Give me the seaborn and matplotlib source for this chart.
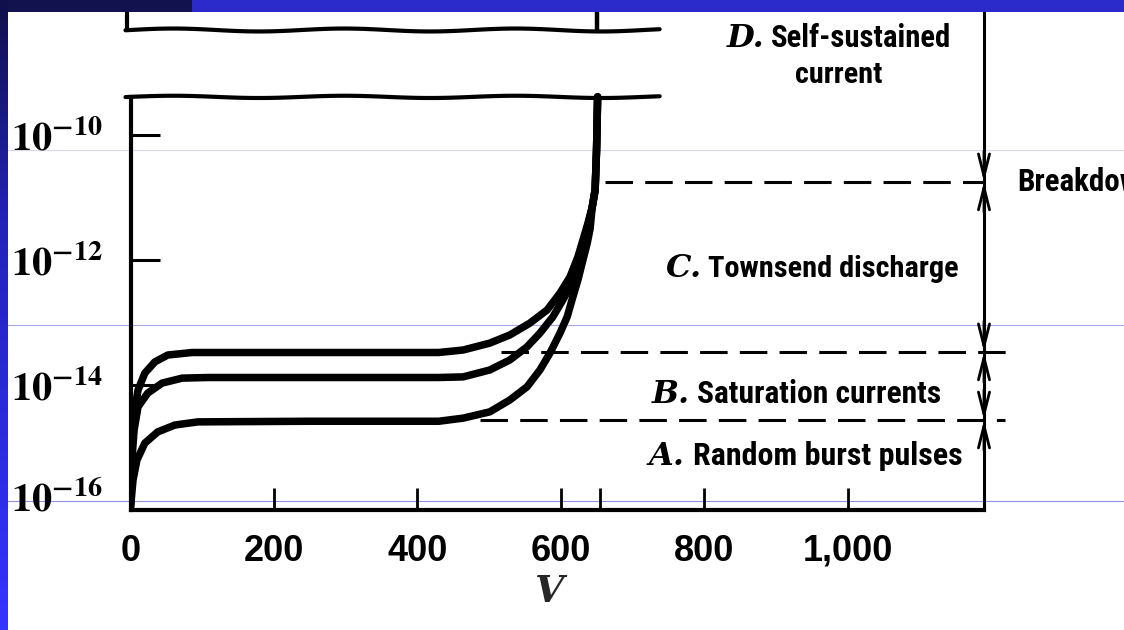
import numpy as np
import pandas as pd
import matplotlib
matplotlib.use("Agg")
import matplotlib.pyplot as plt
import seaborn as sns
from matplotlib.lines import Line2D
from matplotlib.patches import Rectangle
from matplotlib.colors import LinearSegmentedColormap
from matplotlib.ticker import FixedLocator, NullLocator
from matplotlib.transforms import ScaledTranslation

# ---------------- data ----------------
# three saturation-current curves: voltage V and log10(current)
top_V = [0, 2, 6, 10.5, 20, 34, 52, 86, 200, 430, 464, 501, 529, 557, 581, 599, 613, 624,
         631, 638, 644, 648, 650, 651.5]
top_logI = [-15.92, -14.88, -14.4, -14.08, -13.81, -13.63, -13.52, -13.48, -13.48, -13.48,
            -13.44, -13.33, -13.2, -13.01, -12.8, -12.53, -12.27, -11.95, -11.68, -11.41,
            -11.15, -10.88, -10.24, -9.39]
mid_V = [0, 2, 5, 10.5, 24, 44, 72, 108, 250, 430, 464, 501, 529, 553, 571, 589, 603, 616,
         624, 631, 638, 644, 648, 650, 651.5]
mid_logI = [-15.95, -15.2, -14.72, -14.35, -14.13, -13.97, -13.89, -13.88, -13.88, -13.88,
            -13.87, -13.76, -13.6, -13.39, -13.17, -12.91, -12.64, -12.37, -12.11, -11.84,
            -11.45, -11.15, -10.88, -10.24, -9.39]
bot_V = [0, 3.5, 9, 20, 38, 62, 94, 250, 430, 464, 501, 529, 553, 571, 585, 599, 609, 617,
         624, 631, 637, 641, 644, 648, 650, 651.5]
bot_logI = [-15.97, -15.52, -15.2, -14.93, -14.75, -14.64, -14.59, -14.58, -14.58, -14.53,
            -14.43, -14.24, -14.03, -13.76, -13.49, -13.17, -12.91, -12.59, -12.32, -12.0,
            -11.73, -11.5, -11.15, -10.88, -10.24, -9.39]

# region boundary levels (log10 current)
level_names = ["Breakdown", "Saturation top", "Saturation bottom"]
level_logI = [-10.75, -13.47, -14.56]
level_start_V = [662, 517, 487]
level_end_V = [1192, 1224, 1220]

# axis ticks
x_ticks = [0, 200, 400, 600, 655, 800, 1000]
x_tick_labels = ["0", "200", "400", "600", "", "800", "1,000"]
y_tick_exps = [-16, -14, -12, -10, -8]
x_label = "V"

# region labels
region_letters = ["D.", "C.", "B.", "A."]
region_texts = ["Self-sustained", "Townsend discharge", "Saturation currents", "Random burst pulses"]

# ---------------- style ----------------
sns.set_theme(style="white")
SANS = ["Roboto Condensed", "Liberation Sans Narrow", "Open Sans Condensed", "Liberation Sans", "DejaVu Sans"]
plt.rcParams["font.family"] = ["Liberation Sans", "DejaVu Sans"]
plt.rcParams["mathtext.fontset"] = "stix"

W, H = 1124, 630
fig = plt.figure(figsize=(W / 100, H / 100), dpi=100)
fig.patch.set_facecolor("white")


def fx(px):
    return px / W


def fy(py):
    return 1 - py / H


# axes placement (pixels)
X0, X1 = 130.5, 984
Y_BOT, Y_TOP = 510, 12
PX_PER_V = 0.717
PX_PER_DEC = 62.5
xmax = (X1 - X0) / PX_PER_V
ytop_exp = -16 + (Y_BOT - Y_TOP) / PX_PER_DEC

ax = fig.add_axes([fx(X0), fy(Y_BOT), fx(X1) - fx(X0), fy(Y_TOP) - fy(Y_BOT)])
ax.set_facecolor("none")

# ---------------- curves ----------------
frames = []
for name, vv, ll in [("top", top_V, top_logI), ("mid", mid_V, mid_logI), ("bot", bot_V, bot_logI)]:
    frames.append(pd.DataFrame({"V": vv, "I": 10.0 ** np.array(ll), "curve": name}))
df = pd.concat(frames, ignore_index=True)
sns.lineplot(data=df, x="V", y="I", hue="curve", palette=["black"] * 3, estimator=None,
             sort=False, legend=False, linewidth=5.4, ax=ax,
             solid_joinstyle="round", solid_capstyle="round")

ax.set_yscale("log")
ax.set_xlim(0, xmax)
ax.set_ylim(1e-16, 10 ** ytop_exp)

# break lines (wavy edges of the cut-away part)
break_low = top_logI[-1]
break_high = -8.32
wx = np.linspace(-7, 738, 120)
wave = 0.018 * np.sin(wx / 38.0)
ax.plot(wx, 10 ** (break_low + wave), color="black", lw=3.0, clip_on=False)
ax.plot(wx, 10 ** (break_high + wave * 1.3), color="black", lw=3.0, clip_on=False)
ax.plot([-5, -5], [10 ** break_high, 10 ** ytop_exp], color="black", lw=3.0, clip_on=False)
ax.plot([651, 651], [10 ** break_high, 10 ** ytop_exp], color="black", lw=3.2, clip_on=False)

# dashed boundary lines
for lv, x0, x1 in zip(level_logI, level_start_V, level_end_V):
    ax.plot([x0, x1], [10 ** lv, 10 ** lv], color="black", lw=2.2,
            ls=(0, (9, 4)), clip_on=False)

# arrows on the right-hand scale
for lv in level_logI:
    for off in (22, -22):
        ax.annotate("", xy=(xmax, 10 ** lv), xytext=(0, off), textcoords="offset points",
                    arrowprops=dict(arrowstyle="->,head_length=1.6,head_width=0.4",
                                    lw=2.0, color="black", shrinkA=0, shrinkB=0,
                                    mutation_scale=10),
                    annotation_clip=False)

# spines
ax.spines["top"].set_visible(False)
ax.spines["left"].set_bounds(1e-16, 10 ** break_low)
ax.spines["left"].set_linewidth(3.0)
ax.spines["bottom"].set_linewidth(3.0)
ax.spines["right"].set_linewidth(2.2)
for s in ["left", "bottom", "right"]:
    ax.spines[s].set_color("black")

# ticks
ax.xaxis.set_major_locator(FixedLocator(x_ticks))
ax.set_xticklabels(x_tick_labels, fontsize=26, fontweight="bold", family="Liberation Sans")
ax.yaxis.set_major_locator(FixedLocator([10.0 ** e for e in y_tick_exps]))
ax.yaxis.set_minor_locator(NullLocator())
ax.set_yticklabels([r"$\mathbf{10^{%d}}$" % e for e in y_tick_exps], fontsize=29)
ax.tick_params(axis="x", direction="in", length=16, width=2.0, pad=17, colors="black",
               bottom=True, top=False)
ax.tick_params(axis="y", direction="in", length=21, width=2.2, pad=20, colors="black",
               left=True, right=False)
ax.set_xlabel("")
ax.set_ylabel("")
# the lowest label sits a little above the axis line in the original
lowest = ax.yaxis.get_major_ticks()[0].label1
lowest.set_transform(lowest.get_transform() + ScaledTranslation(0, 10 / 72, fig.dpi_scale_trans))

# ---------------- texts ----------------
lab_kw = dict(fontsize=23, fontweight="bold", color="black", va="baseline", family=SANS)
let_kw = dict(fontsize=23, fontweight="bold", style="italic", color="black", va="baseline",
              ha="right", family="DejaVu Serif")

renderer = fig.canvas.get_renderer()


def fit_width(t, target):
    w = t.get_window_extent(renderer).width
    t.set_fontsize(t.get_fontsize() * target / w)
    return t.get_fontsize()


sizes = []
# D
fig.text(fx(765), fy(47), region_letters[0], **let_kw)
t = fig.text(fx(771), fy(47), region_texts[0], ha="left", **lab_kw)
sizes.append(fit_width(t, 181))
t = fig.text(fx(839), fy(83), "current", ha="center", **lab_kw)
sizes.append(fit_width(t, 88))
# C, B, A
for letter, txt, xr, xl, yb, tw in zip(region_letters[1:], region_texts[1:],
                                       [702, 690, 685], [708, 697, 693], [277, 403, 465],
                                       [252, 245, 270]):
    fig.text(fx(xr), fy(yb), letter, **let_kw)
    t = fig.text(fx(xl), fy(yb), txt, ha="left", **lab_kw)
    sizes.append(fit_width(t, tw))
# Breakdown (runs off the right edge as in the slide)
bk = dict(lab_kw)
bk["fontsize"] = float(np.mean(sizes))
fig.text(fx(1017), fy(191), "Breakdown", ha="left", **bk)

fig.text(fx(550), fy(602), x_label, fontsize=27, fontweight="bold", style="italic",
         family="DejaVu Serif", ha="center", va="baseline")

# ---------------- slide decoration ----------------
for py, col in [(150, "#d8d8f4"), (325, "#a8a8ee"), (501, "#9090ea")]:
    fig.add_artist(Line2D([fx(8), 1], [fy(py), fy(py)], transform=fig.transFigure,
                          color=col, lw=0.8, zorder=-1))

fig.add_artist(Rectangle((0, fy(12)), fx(192), 12 / H, transform=fig.transFigure,
                         facecolor="#12124e", edgecolor="none", zorder=10))
fig.add_artist(Rectangle((fx(192), fy(12)), 1 - fx(192), 12 / H, transform=fig.transFigure,
                         facecolor="#2b2bcc", edgecolor="none", zorder=10))
gax = fig.add_axes([0, 0, fx(8), 1])
cmap = LinearSegmentedColormap.from_list("slide", [(0, "#10104a"), (0.35, "#2323b8"), (1, "#3434ff")])
gax.imshow(np.linspace(0, 1, 256).reshape(-1, 1), aspect="auto", cmap=cmap)
gax.axis("off")
gax.set_zorder(11)

fig.savefig("out.png", dpi=100, facecolor="white")
